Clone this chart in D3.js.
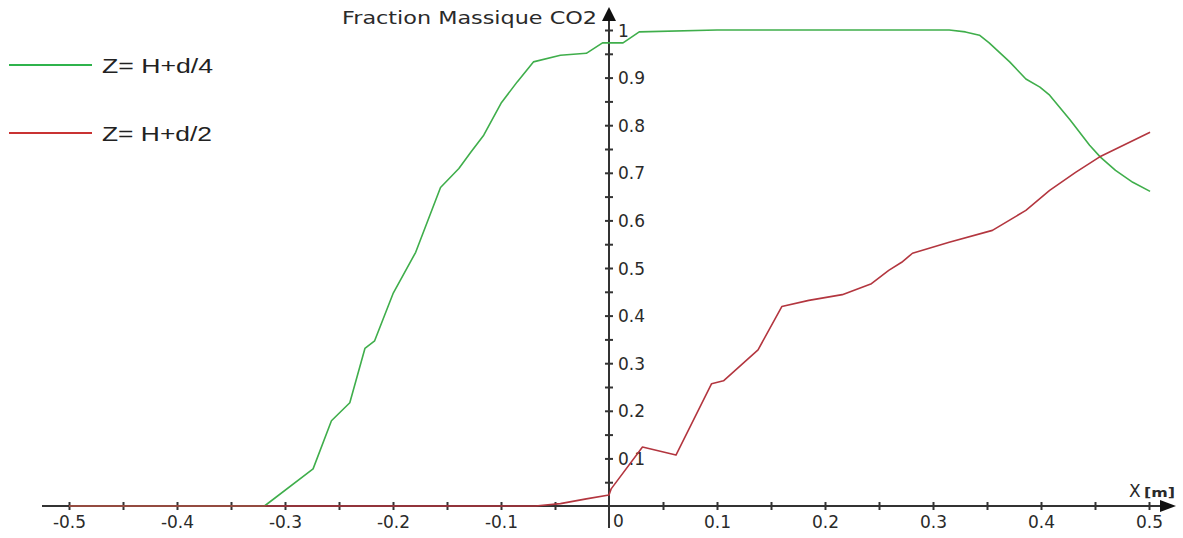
<!DOCTYPE html>
<html>
<head>
<meta charset="utf-8">
<script src="https://cdn.jsdelivr.net/npm/d3@7"></script>
<style>
  html, body { margin: 0; padding: 0; background: #fff; }
  svg { display: block; }
</style>
</head>
<body>
<svg id="chart" width="1183" height="538"></svg>
<script>
// ---- data ----
const seriesNames = ["Z= H+d/4", "Z= H+d/2"];
const seriesColors = ["#3fae4b", "#b3363f"];

const greenX = [-0.5, -0.319, -0.274, -0.257, -0.240, -0.226, -0.217, -0.200, -0.179, -0.156, -0.139, -0.128, -0.116, -0.100, -0.085, -0.070, -0.045, -0.021, -0.006, 0.013, 0.028, 0.1, 0.2, 0.315, 0.330, 0.343, 0.352, 0.371, 0.386, 0.399, 0.408, 0.427, 0.445, 0.455, 0.469, 0.485, 0.501];
const greenY = [0, 0, 0.078, 0.179, 0.217, 0.331, 0.347, 0.446, 0.533, 0.669, 0.709, 0.743, 0.779, 0.846, 0.891, 0.933, 0.947, 0.951, 0.973, 0.973, 0.996, 1.0, 1.0, 1.0, 0.996, 0.989, 0.973, 0.933, 0.897, 0.880, 0.863, 0.811, 0.758, 0.733, 0.705, 0.680, 0.661];

const redX = [-0.5, -0.068, -0.045, -0.021, 0.0, 0.002, 0.031, 0.062, 0.095, 0.106, 0.138, 0.160, 0.185, 0.216, 0.243, 0.259, 0.271, 0.281, 0.315, 0.355, 0.386, 0.408, 0.432, 0.454, 0.501];
const redY = [0, 0, 0.005, 0.015, 0.023, 0.036, 0.124, 0.107, 0.257, 0.263, 0.328, 0.419, 0.432, 0.444, 0.467, 0.495, 0.512, 0.531, 0.554, 0.579, 0.621, 0.663, 0.701, 0.733, 0.785];

const xMajorTicks = [-0.5, -0.4, -0.3, -0.2, -0.1, 0.1, 0.2, 0.3, 0.4, 0.5];
const xMinorTicks = [-0.45, -0.35, -0.25, -0.15, -0.05, 0.05, 0.15, 0.25, 0.35, 0.45];
const yMajorTicks = [0.1, 0.2, 0.3, 0.4, 0.5, 0.6, 0.7, 0.8, 0.9, 1];
const yMinorTicks = [0.05, 0.15, 0.25, 0.35, 0.45, 0.55, 0.65, 0.75, 0.85, 0.95];

const yTitle = "Fraction Massique CO2";
const xTitle = "X";
const xUnit = "[m]";

// ---- drawing ----
const svg = d3.select("#chart");
const x = d3.scaleLinear().domain([-0.5, 0.5]).range([69, 1149]);
const y = d3.scaleLinear().domain([0, 1]).range([506, 30]);
const axisColor = "#333";
const textColor = "#2a2a2a";
const x0 = x(0), y0 = y(0);
const tickFont = "'DejaVu Sans', Verdana, sans-serif";

// x axis via d3.axisBottom
const xAxisG = svg.append("g").attr("transform", `translate(0,${y0})`)
  .call(d3.axisBottom(x).tickValues(xMajorTicks.concat(xMinorTicks)).tickSize(4)
        .tickFormat(d => xMajorTicks.includes(d) ? d3.format(".1f")(d) : ""));
xAxisG.select(".domain").remove();
xAxisG.selectAll(".tick line").attr("y1", -4).attr("y2", 4)
  .attr("stroke", axisColor).attr("stroke-width", 2);
xAxisG.selectAll(".tick text").attr("y", 10).attr("dy", "0.71em")
  .attr("fill", textColor).style("font-family", tickFont).style("font-size", "17px")
  .text(d => xMajorTicks.includes(d) ? d3.format(".1f")(d).replace("−", "-") : "");

// y axis via d3.axisRight
const yAxisG = svg.append("g").attr("transform", `translate(${x0},0)`)
  .call(d3.axisRight(y).tickValues(yMajorTicks.concat(yMinorTicks)).tickSize(4)
        .tickFormat(d => yMajorTicks.includes(d) ? (d === 1 ? "1" : d3.format(".1f")(d)) : ""));
yAxisG.select(".domain").remove();
yAxisG.selectAll(".tick line").attr("x1", -4).attr("x2", 4)
  .attr("stroke", axisColor).attr("stroke-width", 2);
yAxisG.selectAll(".tick text").attr("x", 9).attr("dy", "0.36em")
  .attr("fill", textColor).style("font-family", tickFont).style("font-size", "17px");

// axis lines
svg.append("line").attr("x1", 42).attr("x2", 1165).attr("y1", y0).attr("y2", y0)
  .attr("stroke", axisColor).attr("stroke-width", 2);
svg.append("line").attr("x1", x0).attr("x2", x0).attr("y1", 16).attr("y2", 528)
  .attr("stroke", axisColor).attr("stroke-width", 2);
// arrows
svg.append("path").attr("d", `M1176,${y0} L1160,${y0 - 6} L1160,${y0 + 6} Z`).attr("fill", "#111");
svg.append("path").attr("d", `M${x0},7 L${x0 - 7},21 L${x0 + 7},21 Z`).attr("fill", "#111");

// origin label
svg.append("text").attr("x", x0 + 4).attr("y", y0 + 9).attr("dy", "0.71em")
  .attr("fill", textColor).style("font-family", tickFont).style("font-size", "17px").text("0");

// axis titles
svg.append("text").attr("x", 342).attr("y", 24)
  .attr("textLength", 255).attr("lengthAdjust", "spacingAndGlyphs")
  .attr("fill", textColor).style("font-family", tickFont).style("font-size", "18px").text(yTitle);
svg.append("text").attr("x", 1129).attr("y", 497)
  .attr("fill", textColor).style("font-family", tickFont).style("font-size", "17px").text(xTitle);
svg.append("text").attr("x", 1144).attr("y", 497).attr("textLength", 31).attr("lengthAdjust", "spacingAndGlyphs")
  .attr("fill", textColor).style("font-family", tickFont).style("font-size", "13px").style("font-weight", "bold").text(xUnit);

// lines
const line = d3.line().x(d => x(d[0])).y(d => y(d[1]));
const greenData = d3.zip(greenX, greenY);
const redData = d3.zip(redX, redY);
[greenData, redData].forEach((data, i) => {
  svg.append("path").datum(data).attr("d", line)
    .attr("fill", "none").attr("stroke", seriesColors[i]).attr("stroke-width", 1.6)
    .attr("stroke-linejoin", "round");
});

// legend
const legendY = [65, 133];
const legendTextLen = [111, 110];
seriesNames.forEach((name, i) => {
  svg.append("line").attr("x1", 9).attr("x2", 92).attr("y1", legendY[i]).attr("y2", legendY[i])
    .attr("stroke", i === 0 ? "#2fb34c" : "#c93232").attr("stroke-width", 2);
  svg.append("text").attr("x", 102).attr("y", legendY[i]).attr("dy", "0.36em")
    .attr("textLength", legendTextLen[i]).attr("lengthAdjust", "spacingAndGlyphs")
    .attr("fill", "#222").style("font-family", "'Liberation Sans', Arial, sans-serif")
    .style("font-size", "21px").text(name);
});
</script>
</body>
</html>
